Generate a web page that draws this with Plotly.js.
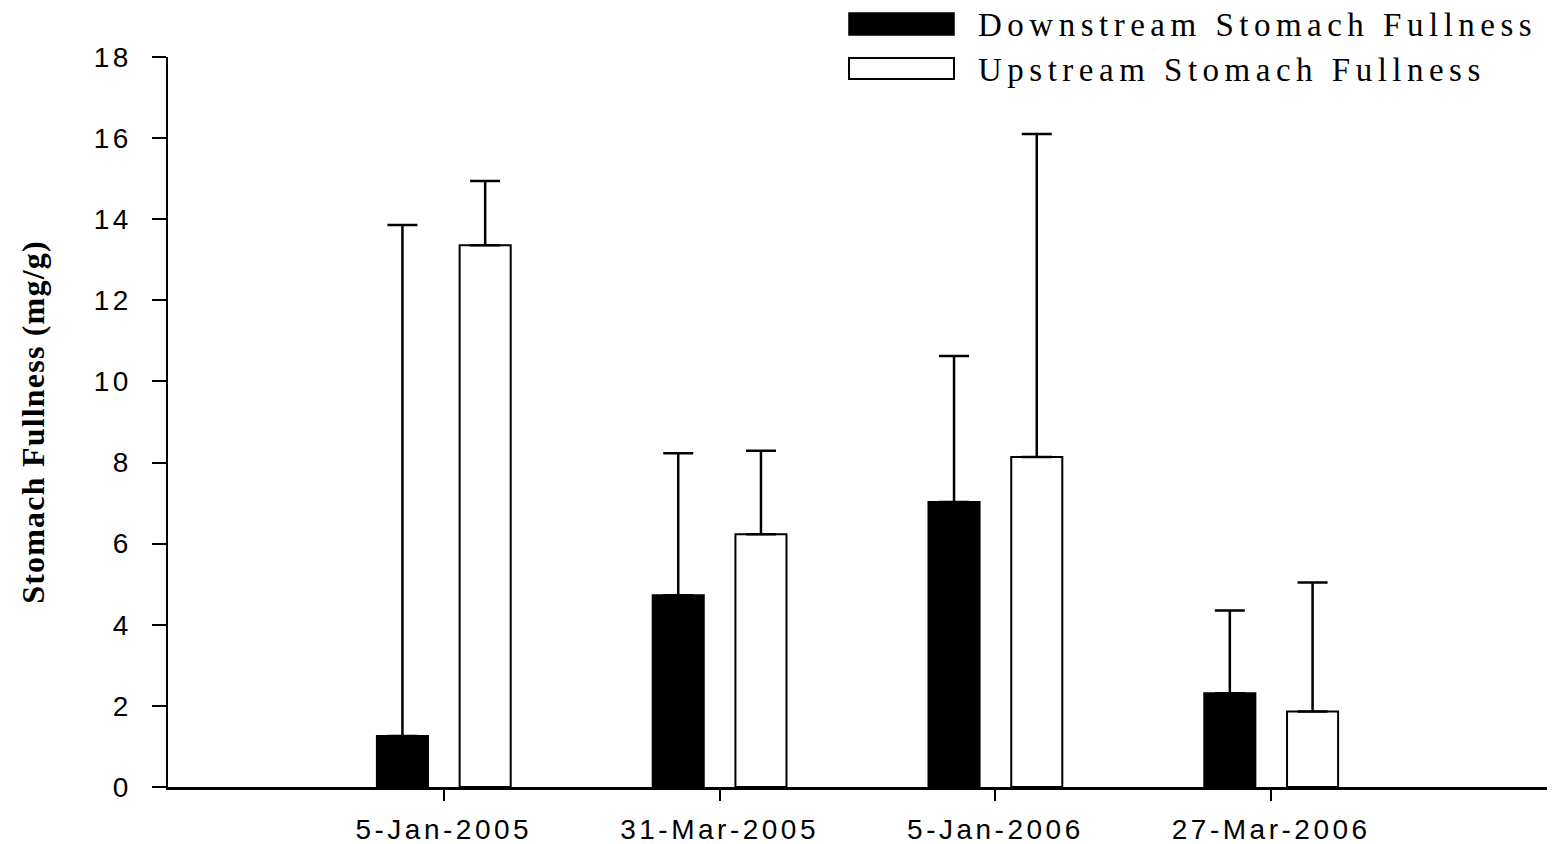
<!DOCTYPE html>
<html>
<head>
<meta charset="utf-8">
<script src="https://cdn.plot.ly/plotly-3.0.1.min.js"></script>
<style>
  html, body { margin: 0; padding: 0; background: #fff; }
  #chart { width: 1554px; height: 844px; }
  .xtick text, .ytick text { letter-spacing: 3.5px; }
  .ytitle { letter-spacing: 1.2px; }
  .annotation-text { letter-spacing: 5.5px; }
</style>
</head>
<body>
<div id="chart"></div>
<script>
// ---- data ----
const dates = ["5-Jan-2005", "31-Mar-2005", "5-Jan-2006", "27-Mar-2006"];
const downstreamName = "Downstream Stomach Fullness";
const upstreamName = "Upstream Stomach Fullness";
const downstreamMean = [1.26, 4.73, 7.03, 2.31];
const downstreamErr  = [12.60, 3.50, 3.60, 2.04];
const upstreamMean   = [13.36, 6.23, 8.14, 1.86];
const upstreamErr    = [1.58, 2.06, 7.96, 3.18];
const yTickVals = [0, 2, 4, 6, 8, 10, 12, 14, 16, 18];

const zeros = dates.map(() => 0);

const traces = [
  {
    type: "bar", name: downstreamName, x: dates, y: downstreamMean,
    marker: { color: "#000000", line: { color: "#000000", width: 2 } },
    error_y: { type: "data", array: downstreamErr, arrayminus: zeros, symmetric: false,
               color: "#000000", thickness: 2.5, width: 15 },
    showlegend: false, hoverinfo: "skip"
  },
  {
    type: "bar", name: upstreamName, x: dates, y: upstreamMean,
    marker: { color: "#ffffff", line: { color: "#000000", width: 2 } },
    error_y: { type: "data", array: upstreamErr, arrayminus: zeros, symmetric: false,
               color: "#000000", thickness: 2.5, width: 15 },
    showlegend: false, hoverinfo: "skip"
  }
];

const layout = {
  width: 1554, height: 844,
  paper_bgcolor: "#ffffff", plot_bgcolor: "#ffffff",
  margin: { l: 168, r: 7, t: 57, b: 57 },
  barmode: "group", bargap: 0.4, bargroupgap: 0.383,
  showlegend: false,
  font: { family: "Liberation Sans, Arial, sans-serif", color: "#000000" },
  xaxis: {
    type: "category", range: [-1, 4],
    showline: true, linecolor: "#000000", linewidth: 2.5,
    ticks: "outside", ticklen: 11, tickwidth: 2, tickcolor: "#000000",
    showgrid: false, zeroline: false,
    tickfont: { family: "Liberation Sans, Arial, sans-serif", size: 28, color: "#000000" },
    ticklabelstandoff: 5
  },
  yaxis: {
    range: [0, 18], tickvals: yTickVals, ticktext: yTickVals.map(String),
    showline: true, linecolor: "#000000", linewidth: 2.5,
    ticks: "outside", ticklen: 14, tickwidth: 2, tickcolor: "#000000",
    showgrid: false, zeroline: false,
    tickfont: { family: "Liberation Sans, Arial, sans-serif", size: 28, color: "#000000" },
    ticklabelstandoff: 14,
    title: {
      text: "<b>Stomach Fullness (mg/g)</b>",
      font: { family: "Liberation Serif, Times New Roman, serif", size: 32, color: "#000000" },
      standoff: 40
    }
  },
  shapes: [
    { type: "rect", xref: "paper", yref: "paper",
      x0: (849 - 168) / 1379, x1: (954 - 168) / 1379,
      y0: (787 - 35) / 730, y1: (787 - 13) / 730,
      fillcolor: "#000000", line: { color: "#000000", width: 1.5 } },
    { type: "rect", xref: "paper", yref: "paper",
      x0: (849 - 168) / 1379, x1: (954 - 168) / 1379,
      y0: (787 - 79) / 730, y1: (787 - 58) / 730,
      fillcolor: "#ffffff", line: { color: "#000000", width: 2 } }
  ],
  annotations: [
    { xref: "paper", yref: "paper", x: (976 - 168) / 1379, y: (787 - 25) / 730,
      xanchor: "left", yanchor: "middle", showarrow: false, text: downstreamName,
      font: { family: "Liberation Serif, Times New Roman, serif", size: 33, color: "#000000" } },
    { xref: "paper", yref: "paper", x: (976 - 168) / 1379, y: (787 - 70) / 730,
      xanchor: "left", yanchor: "middle", showarrow: false, text: upstreamName,
      font: { family: "Liberation Serif, Times New Roman, serif", size: 33, color: "#000000" } }
  ]
};

Plotly.newPlot("chart", traces, layout, { displayModeBar: false, staticPlot: true });
</script>
</body>
</html>
